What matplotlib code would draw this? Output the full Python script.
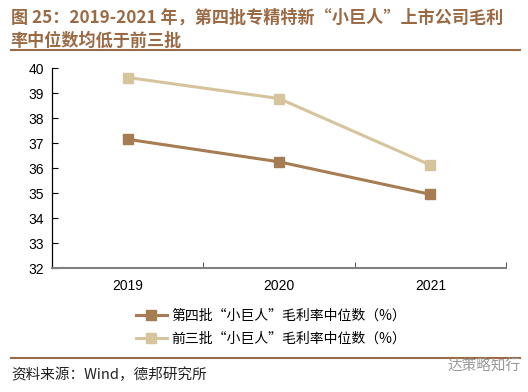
import matplotlib
matplotlib.use("Agg")
import matplotlib.pyplot as plt
from matplotlib.lines import Line2D

plt.rcParams['font.family'] = ['Noto Sans CJK SC', 'DejaVu Sans']

years = ['2019', '2020', '2021']
batch4 = [37.15, 36.25, 34.95]
batch123 = [39.62, 38.78, 36.12]
labels = ['第四批“小巨人”毛利率中位数（%）', '前三批“小巨人”毛利率中位数（%）']

dark = '#A67C52'
light = '#D6C49C'
title_color = '#9A6A44'

fig = plt.figure(figsize=(5.28, 3.92), dpi=100)
ax = fig.add_axes([0.0985, 0.316, 0.86, 0.5105])

x = list(range(len(years)))
ax.plot(x, batch4, color=dark, lw=2.2, marker='s', ms=7, label=labels[0])
ax.plot(x, batch123, color=light, lw=2.2, marker='s', ms=7, label=labels[1])

ax.set_xlim(-0.5, 2.5)
ax.set_ylim(32, 40)
ax.set_xticks(x)
ax.set_xticklabels(years, fontsize=10, family=['Liberation Sans'])
ax.set_yticks(range(32, 41))
ax.set_yticklabels([str(v) for v in range(32, 41)], fontsize=10, family=['Liberation Sans'])
ax.tick_params(axis='y', direction='in', length=4, width=0.8, pad=6)
ax.tick_params(axis='x', length=0, pad=8)
ax.set_xticks([-0.5, 0.5, 1.5, 2.5], minor=True)
ax.tick_params(axis='x', which='minor', direction='in', length=4, color='#333333')

for s in ['top', 'right']:
    ax.spines[s].set_visible(False)
ax.spines['left'].set_color('black')
ax.spines['left'].set_linewidth(0.9)
ax.spines['bottom'].set_color('#808080')
ax.spines['bottom'].set_linewidth(1.5)

ax.legend(loc='upper left', bbox_to_anchor=(0.17, -0.17), frameon=False,
          fontsize=10, handlelength=2.2, handletextpad=0.3,
          labelspacing=0.65, borderpad=0)

# title
fig.text(0.02, 0.955, '图 25：2019-2021 年，第四批专精特新“小巨人”上市公司毛利',
         fontsize=12.3, fontweight='bold', color=title_color, va='center')
fig.text(0.02, 0.897, '率中位数均低于前三批',
         fontsize=12.3, fontweight='bold', color=title_color, va='center')
fig.add_artist(Line2D([0.02, 0.985], [0.872, 0.872], color=title_color, lw=1.5))
fig.add_artist(Line2D([0.02, 0.985], [0.087, 0.087], color=title_color, lw=1.5))

fig.text(0.022, 0.045, '资料来源：Wind，德邦研究所', fontsize=10.5, color='#222222', va='center')
fig.text(0.985, 0.065, '达策略知行', fontsize=10.5, color='#999999', va='center', ha='right')

fig.savefig('out.png', dpi=100)
